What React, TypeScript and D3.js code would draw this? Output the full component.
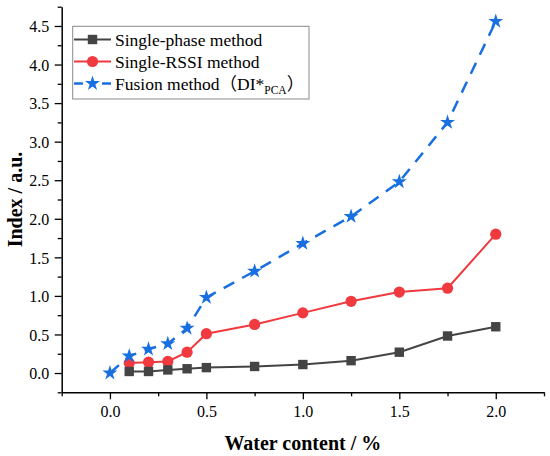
import React, { useEffect, useRef } from "react";
import * as d3 from "d3";

const waterContent = [0, 0.1, 0.2, 0.3, 0.4, 0.5, 0.75, 1.0, 1.25, 1.5, 1.75, 2.0];
const phaseX = [0.1, 0.2, 0.3, 0.4, 0.5, 0.75, 1.0, 1.25, 1.5, 1.75, 2.0];
const phaseValues = [0.02, 0.02, 0.04, 0.055, 0.07, 0.085, 0.11, 0.16, 0.27, 0.48, 0.6];
const rssiX = [0.1, 0.2, 0.3, 0.4, 0.5, 0.75, 1.0, 1.25, 1.5, 1.75, 2.0];
const rssiValues = [0.13, 0.14, 0.15, 0.27, 0.51, 0.63, 0.78, 0.93, 1.05, 1.1, 1.8];
const fusionValues = [0.0, 0.22, 0.31, 0.38, 0.58, 0.98, 1.32, 1.68, 2.03, 2.48, 3.25, 4.56];

const xMajor = [0, 0.5, 1.0, 1.5, 2.0];
const xMinor = [-0.25, 0.25, 0.75, 1.25, 1.75, 2.25];
const yMajor = [0, 0.5, 1.0, 1.5, 2.0, 2.5, 3.0, 3.5, 4.0, 4.5];
const yMinor = [-0.25, 0.25, 0.75, 1.25, 1.75, 2.25, 2.75, 3.25, 3.75, 4.25, 4.75];

const GRAY = "#444444";
const RED = "#f03a3f";
const BLUE = "#1a6fe0";
const FONT = "'Liberation Serif', 'Times New Roman', 'Noto Sans CJK SC', serif";

const App: React.FC = () => {
  const svgRef: any = useRef();

  useEffect(() => {
    const svg = d3.select(svgRef.current);
    svg.selectAll("*").remove();

    const left = 61.7;
    const right = 544;
    const top = 6.7;
    const bottom = 392.3;

    const x = d3.scaleLinear().domain([-0.25, 2.25]).range([left, right]);
    const y = d3.scaleLinear().domain([-0.25, 4.75]).range([bottom, top]);

    // axes: minor ticks first, then labelled major ticks
    const xMinorAxis = svg
      .append("g")
      .attr("transform", `translate(0,${bottom})`)
      .call(d3.axisBottom(x).tickValues(xMinor).tickSize(4).tickFormat(() => ""));
    xMinorAxis.select(".domain").remove();

    const xAxis = svg
      .append("g")
      .attr("transform", `translate(0,${bottom})`)
      .call(d3.axisBottom(x).tickValues(xMajor).tickSize(7).tickSizeOuter(0).tickFormat(d3.format(".1f")));
    xAxis.selectAll("text").attr("y", 25).attr("dy", 0);

    const yMinorAxis = svg
      .append("g")
      .attr("transform", `translate(${left},0)`)
      .call(d3.axisLeft(y).tickValues(yMinor).tickSize(4).tickFormat(() => ""));
    yMinorAxis.select(".domain").remove();

    const yAxis = svg
      .append("g")
      .attr("transform", `translate(${left},0)`)
      .call(d3.axisLeft(y).tickValues(yMajor).tickSize(7).tickSizeOuter(0).tickFormat(d3.format(".1f")));
    yAxis.selectAll("text").attr("x", -12.5).attr("dy", "0.36em");

    [xAxis, yAxis].forEach((g) => g.attr("font-family", FONT).attr("font-size", 16));
    svg.selectAll(".tick line").attr("stroke", "#000").attr("stroke-width", 1.3);
    svg.selectAll(".domain").attr("stroke", "#000").attr("stroke-width", 1.5);
    svg
      .selectAll(".tick text")
      .attr("font-family", FONT)
      .attr("font-size", "16px")
      .attr("fill", "#000");

    svg
      .append("text")
      .attr("x", (left + right) / 2)
      .attr("y", 450)
      .attr("text-anchor", "middle")
      .attr("font-family", FONT)
      .attr("font-weight", "bold")
      .attr("font-size", "20px")
      .text("Water content / %");

    svg
      .append("text")
      .attr("transform", "rotate(-90)")
      .attr("x", -(top + bottom) / 2)
      .attr("y", 22)
      .attr("text-anchor", "middle")
      .attr("font-family", FONT)
      .attr("font-weight", "bold")
      .attr("font-size", "20px")
      .text("Index / a.u.");

    const line = d3
      .line<[number, number]>()
      .x((d) => x(d[0]))
      .y((d) => y(d[1]));

    const phase = phaseX.map((v, i) => [v, phaseValues[i]] as [number, number]);
    const rssi = rssiX.map((v, i) => [v, rssiValues[i]] as [number, number]);
    const fusion = waterContent.map((v, i) => [v, fusionValues[i]] as [number, number]);

    const star = d3.symbol().type(d3.symbolStar).size(70);

    // red series
    svg
      .append("path")
      .datum(rssi)
      .attr("fill", "none")
      .attr("stroke", RED)
      .attr("stroke-width", 2)
      .attr("d", line);
    svg
      .append("g")
      .selectAll("circle")
      .data(rssi)
      .join("circle")
      .attr("cx", (d) => x(d[0]))
      .attr("cy", (d) => y(d[1]))
      .attr("r", 5.6)
      .attr("fill", RED);

    // gray series
    svg
      .append("path")
      .datum(phase)
      .attr("fill", "none")
      .attr("stroke", GRAY)
      .attr("stroke-width", 2)
      .attr("d", line);
    svg
      .append("g")
      .selectAll("rect")
      .data(phase)
      .join("rect")
      .attr("x", (d) => x(d[0]) - 4.7)
      .attr("y", (d) => y(d[1]) - 4.7)
      .attr("width", 9.4)
      .attr("height", 9.4)
      .attr("fill", GRAY);

    // blue dashed series
    svg
      .append("path")
      .datum(fusion)
      .attr("fill", "none")
      .attr("stroke", BLUE)
      .attr("stroke-width", 2.5)
      .attr("stroke-dasharray", "12,9")
      .attr("d", line);
    svg
      .append("g")
      .selectAll("path")
      .data(fusion)
      .join("path")
      .attr("transform", (d) => `translate(${x(d[0])},${y(d[1])})`)
      .attr("d", star as any)
      .attr("fill", BLUE);

    // legend
    const lg = svg.append("g");
    lg.append("rect")
      .attr("x", 72.7)
      .attr("y", 26.3)
      .attr("width", 236.3)
      .attr("height", 72.7)
      .attr("fill", "#fff")
      .attr("stroke", "#8a8a8a")
      .attr("stroke-width", 1);

    const rows = [39.5, 61.5, 83.5];
    const textStyle = (t: any) =>
      t.attr("x", 115).attr("font-family", FONT).attr("font-size", "17.5px").attr("fill", "#000");

    lg.append("line").attr("x1", 74).attr("x2", 111).attr("y1", rows[0]).attr("y2", rows[0])
      .attr("stroke", GRAY).attr("stroke-width", 2);
    lg.append("rect").attr("x", 92.5 - 4.7).attr("y", rows[0] - 4.7).attr("width", 9.4).attr("height", 9.4)
      .attr("fill", GRAY);
    lg.append("text").call(textStyle).attr("y", rows[0] + 6).text("Single-phase method");

    lg.append("line").attr("x1", 74).attr("x2", 111).attr("y1", rows[1]).attr("y2", rows[1])
      .attr("stroke", RED).attr("stroke-width", 2);
    lg.append("circle").attr("cx", 92.5).attr("cy", rows[1]).attr("r", 5.6).attr("fill", RED);
    lg.append("text").call(textStyle).attr("y", rows[1] + 6).text("Single-RSSI method");

    lg.append("line").attr("x1", 74).attr("x2", 111).attr("y1", rows[2]).attr("y2", rows[2])
      .attr("stroke", BLUE).attr("stroke-width", 2.5).attr("stroke-dasharray", "9,19");
    lg.append("path").attr("transform", `translate(92.5,${rows[2]})`).attr("d", star as any).attr("fill", BLUE);
    const t3 = lg.append("text").call(textStyle).attr("y", rows[2] + 6);
    t3.append("tspan").text("Fusion method（DI*");
    t3.append("tspan").attr("font-size", "11.5px").attr("dy", 4).text("PCA");
    t3.append("tspan").attr("dy", -4).text("）");
  }, []);

  return (
    <svg
      ref={svgRef}
      width={550}
      height={456}
      style={{ position: "absolute", left: 0, top: 0, background: "#fff" }}
    />
  );
};

export default App;
